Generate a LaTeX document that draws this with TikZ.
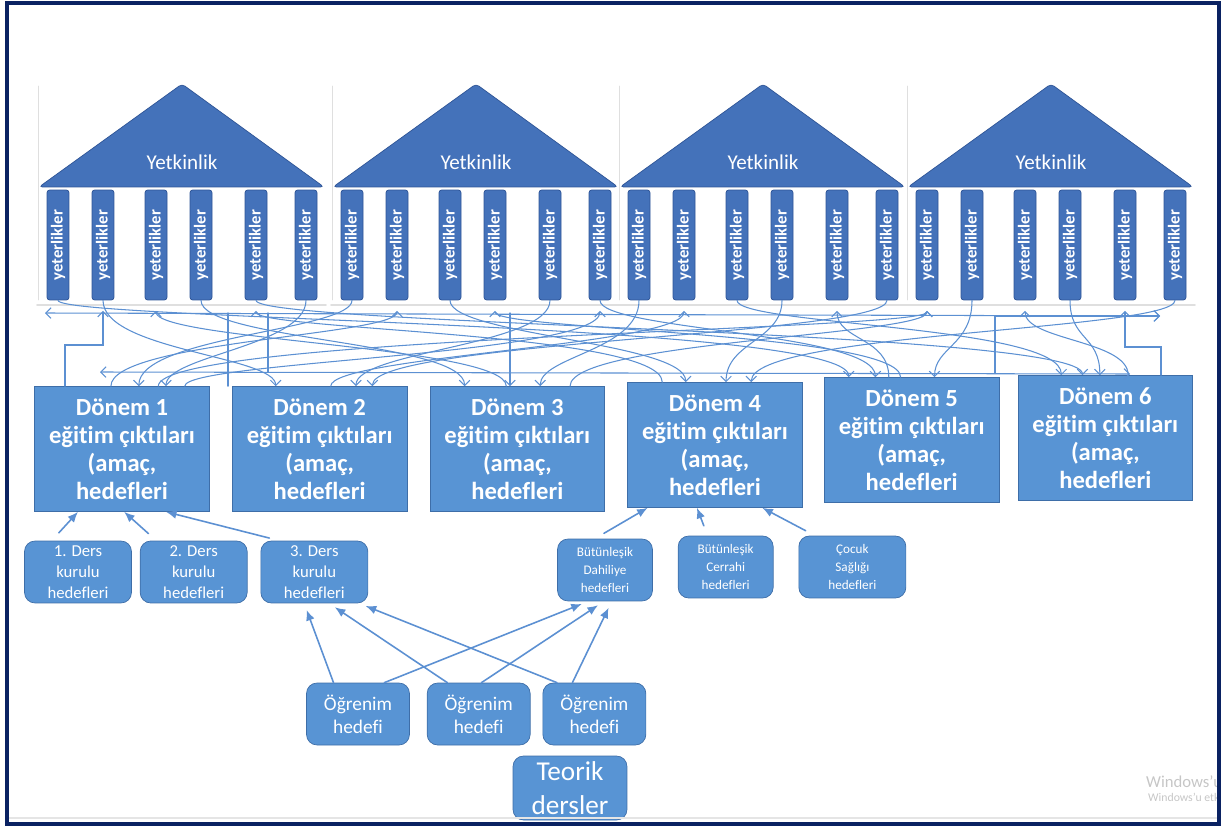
\documentclass[tikz,border=0pt]{standalone}
\usepackage{fontspec}
\setmainfont{Carlito}[Ligatures=NoCommon]
\usepackage{xcolor}
\usepackage{graphicx}
\definecolor{roofblue}{RGB}{68,114,186}
\definecolor{roofedge}{RGB}{46,84,150}
\definecolor{boxblue}{RGB}{88,148,212}
\definecolor{boxedge}{RGB}{62,110,168}
\definecolor{linkblue}{RGB}{92,144,210}
\definecolor{darknavy}{RGB}{10,34,98}
\usetikzlibrary{positioning,arrows.meta}

\begin{document}
\begin{tikzpicture}[x=0.02cm,y=-0.02cm,line cap=round,
                    >={Straight Barb[length=3pt,width=6pt]},
                    pillar/.style={fill=roofblue,draw=roofedge,rounded corners=1.5pt,minimum width=0.44cm,minimum height=2.2cm,
                                   inner sep=0pt,text=white,font=\bfseries\fontsize{9.5}{10}\selectfont},
                    period/.style={fill=boxblue,draw=boxedge,minimum width=3.5cm,minimum height=2.5cm,inner sep=0pt,
                                   align=center,text=white,font=\bfseries\fontsize{14}{15.9}\selectfont},
                    course/.style={fill=boxblue,draw=boxedge,rounded corners=6pt,minimum width=2.14cm,minimum height=1.24cm,
                                   inner sep=0pt,align=center,text=white,font=\fontsize{9.5}{12}\selectfont},
                    clinic/.style={course,minimum width=1.9cm,font=\fontsize{7.5}{10.5}\selectfont},
                    goal/.style={course,minimum width=2.06cm,font=\fontsize{11}{13}\selectfont},
                    link/.style={linkblue,line width=0.6pt},
                    feed/.style={linkblue,line width=0.9pt,-{Latex[length=6pt,width=5pt]}},
                   ]
  \useasboundingbox (0,0) rectangle (1226,827);

  % four temples
  \foreach \x [count=\tp] in {39,333,620,908} {
    \draw[gray!25] (\x-1,86) -- (\x-1,300);
    \draw[gray!25,line width=1pt] (\x-2,305) -- (\x+287,305);
    \filldraw[fill=roofblue,draw=roofedge,rounded corners=2pt] (\x,187) -- (\x+143,84) -- (\x+285,187) -- cycle;
    \node[text=white,font=\fontsize{12}{12}\selectfont] (Y\tp) at (\x+143,162) {Yetkinlik};
    \foreach \dx [count=\cl] in {19,64,117,162,217,267}
      \node[pillar] (C\tp\cl) at (\x+\dx,245) {\rotatebox{90}{yeterlikler}};
  }

  % periods
  \node[period]                                  (D1) at (122,449) {Dönem 1\\eğitim çıktıları\\(amaç,\\hedefleri};
  \node[period,right=0.44cm of D1]               (D2) {Dönem 2\\eğitim çıktıları\\(amaç,\\hedefleri};
  \node[period,right=0.44cm of D2]               (D3) {Dönem 3\\eğitim çıktıları\\(amaç,\\hedefleri};
  \node[period,right=0.44cm of D3,yshift=0.08cm] (D4) {Dönem 4\\eğitim çıktıları\\(amaç,\\hedefleri};
  \node[period,right=0.42cm of D4,yshift=0.1cm]  (D5) {Dönem 5\\eğitim çıktıları\\(amaç,\\hedefleri};
  \node[period,right=0.36cm of D5,yshift=0.04cm] (D6) {Dönem 6\\eğitim çıktıları\\(amaç,\\hedefleri};

  % lower boxes
  \node[course]                   (K1) at (78,572) {1. Ders\\kurulu\\hedefleri};
  \node[course,right=0.16cm of K1] (K2) {2. Ders\\kurulu\\hedefleri};
  \node[course,right=0.26cm of K2] (K3) {3. Ders\\kurulu\\hedefleri};
  \node[clinic]                   (B1) at (605,570) {Bütünleşik\\Dahiliye\\hedefleri};
  \node[clinic,right=0.5cm of B1,yshift=0.06cm] (B2) {Bütünleşik\\Cerrahi\\hedefleri};
  \node[clinic,right=0.5cm of B2,minimum width=2.14cm] (B3) {Çocuk\\Sağlığı\\hedefleri};
  \node[goal]                     (O1) at (358,714) {Öğrenim\\hedefi};
  \node[goal,right=0.34cm of O1]  (O2) {Öğrenim\\hedefi};
  \node[goal,right=0.24cm of O2]  (O3) {Öğrenim\\hedefi};
  \node[course,minimum width=2.28cm,minimum height=1.28cm,font=\fontsize{15.5}{19}\selectfont] (T) at (570,788) {Teorik\\dersler};

  % links between pillars and periods
  \coordinate (h1) at (45,313);   \coordinate (h2) at (1160,316);
  \coordinate (b1) at (100,372);  \coordinate (b2) at (1130,374);
  \coordinate (g1) at (228,313);  \coordinate (g2) at (268,313);
  \coordinate (g3) at (510,313);  \coordinate (g4) at (995,373);
  \coordinate (s1) at (65,345);   \coordinate (s2) at (1161,347);
  \draw[link,<->] (h1) -- (h2);
  \draw[link,<->] (b1) -- (b2);
  \draw[link] (g1) -- (g1 |- D2.north);
  \draw[link] (g2) -- (g2 |- b1);
  \draw[link,->] (g3) -- (g3 |- D3.north);
  \draw[link,->] (g4) |- (h2);
  \draw[link,->,shorten >=6pt] (s1 |- D1.north) -- (s1) -| (C12.south);
  \draw[link,->,shorten >=6pt] (s2 |- D6.north) -- (s2) -| (C45.south);
  \foreach \a/\b/\u/\v in {C12/D2.125/50/30, C14/D3.130/40/45, C16/D1.55/45/30, C21/D1.75/30/50,
                           C23/D4.115/35/40, C25/D2.60/45/35, C26/D5.120/30/45, C31/D3.70/50/30,
                           C33/D6.125/25/50, C34/D4.80/40/40, C36/D2.50/35/45, C42/D5.70/45/30,
                           C44/D6.95/40/40, C46/D4.60/30/50, C11/D5.135/20/55, C15/D6.110/25/45}
    \draw[link,->] (\a.south) .. controls +(0,\u) and +(0,-\v) .. (\b);
  \foreach \a/\b/\u/\v in {C13/D3.100/40/40, C22/D1.100/35/45, C24/D5.100/30/45, C32/D2.80/45/30,
                           C35/D5.110/40/40, C41/D3.50/35/45, C43/D6.70/40/35, C15/D4.130/30/50,
                           C26/D1.45/55/25, C41/D1.60/30/50}
    \draw[link,<-,shorten <=6pt] (\a.south) .. controls +(0,\u) and +(0,-\v) .. (\b);

  % feeding arrows
  \draw[feed,shorten <=6pt] (K1.130) -- (D1.-125);
  \draw[feed,shorten <=6pt] (K2.140) -- (D1.-88);
  \draw[feed,shorten <=6pt] (K3.138) -- (D1.-55);
  \draw[feed,shorten <=6pt] (B1.108) -- (D4.-137);
  \draw[feed,shorten <=6pt] (B2.120) -- (D4.-106);
  \draw[feed,shorten <=6pt] (B3.140) -- (D4.-53);
  \draw[feed,shorten >=4pt] (O1.128) -- (K3.-108);
  \draw[feed,shorten >=4pt] (O1.50)  -- (B1.-118);
  \draw[feed,shorten >=4pt] (O2.135) -- (K3.-65);
  \draw[feed,shorten >=4pt] (O2.85)  -- (B1.-92);
  \draw[feed,shorten >=4pt] (O3.140) -- (K3.-35);
  \draw[feed,shorten >=4pt] (O3.125) -- (B1.-78);

  % screen leftovers
  \draw[gray!20,line width=1pt] (8,818) -- (1218,818);
  \begin{scope}
    \clip (1100,700) rectangle (1217,816);
    \node[anchor=base west,text=gray!45,font=\fontsize{9.5}{10}\selectfont] (W1) at (1140,787) {Windows'u};
    \node[anchor=base west,text=gray!45,font=\fontsize{6.7}{7}\selectfont]  (W2) at (1142,801) {Windows'u etk};
  \end{scope}
  \draw[darknavy,line width=1.8pt] (7,3) rectangle (1219,824);
\end{tikzpicture}
\end{document}
